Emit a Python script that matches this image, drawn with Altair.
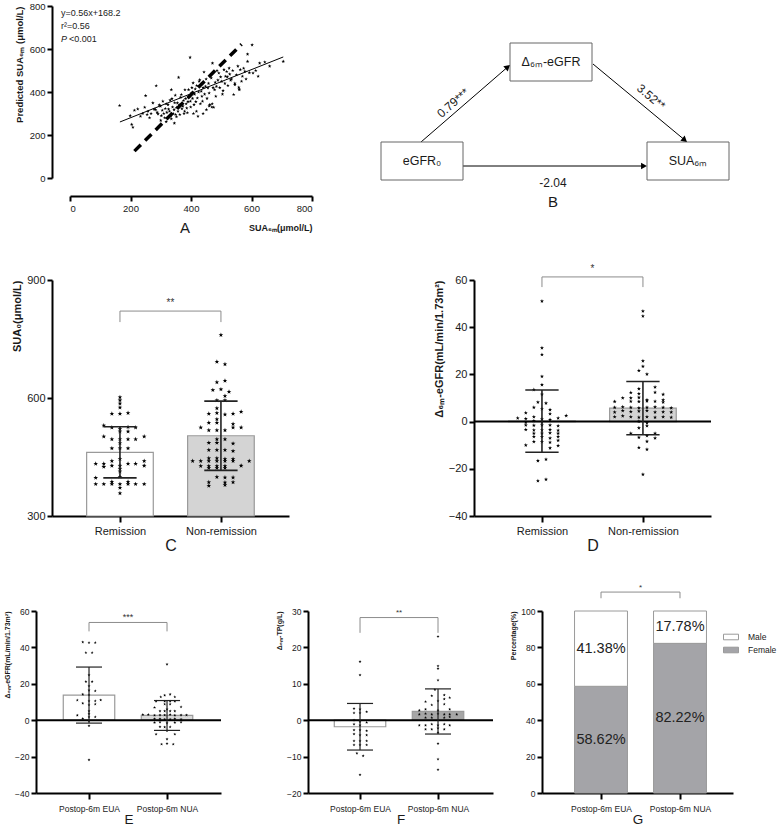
import altair as alt
import pandas as pd

FONT = "Liberation Sans"
STAR = "M0,-1L0.24,-0.32L0.95,-0.31L0.38,0.12L0.59,0.81L0,0.4L-0.59,0.81L-0.38,0.12L-0.95,-0.31L-0.24,-0.32Z"

# ---------------- Panel A : scatter ----------------
a_sua6m = [164,199,204,208,213,224,233,240,247,250,255,258,263,268,274,278,283,285,288,291,295,299,300,302,305,307,310,313,315,318,318,320,324,326,329,331,333,335,335,337,339,341,344,345,346,348,349,352,352,355,357,359,361,363,365,368,370,373,375,377,379,380,382,384,386,388,390,392,394,397,398,399,401,403,405,407,408,410,412,414,416,418,419,421,423,425,427,429,431,434,436,438,440,440,443,445,448,450,451,453,456,458,460,460,462,464,467,469,470,471,473,475,478,480,482,484,486,489,492,495,498,501,504,506,509,512,514,518,520,522,526,528,531,534,538,541,545,545,550,555,558,559,560,563,567,570,574,578,582,587,587,593,602,605,614,622,627,644,660,705]
a_pred = [337,290,249,236,315,321,287,300,329,383,295,310,280,300,349,320,318,429,305,298,340,334,268,290,315,357,300,280,323,262,345,305,341,320,310,362,290,411,275,369,330,300,318,255,350,385,295,328,285,349,310,468,340,295,375,388,322,334,360,300,310,410,369,345,325,303,355,411,380,561,357,330,395,420,370,442,300,341,390,414,355,310,430,372,287,400,450,457,345,403,380,357,420,300,493,390,426,460,318,370,419,440,395,335,341,480,465,330,345,534,420,329,411,445,380,426,500,455,488,420,470,449,390,406,504,440,473,495,470,430,511,483,455,460,500,388,434,440,480,520,422,414,410,504,450,473,510,496,460,576,542,490,619,488,500,473,534,539,520,542]
a_fit_x = [165, 705]
a_fit_y = [260.6, 563.0]
a_ref_x = [213, 567]
a_ref_y = [125, 622]
a_notes = ["y=0.56x+168.2", "r²=0.56"]
a_note_y = [767, 707]

# ---------------- Panel B : mediation diagram ----------------
b_box_label = ["Δ₆ₘ-eGFR", "eGFR₀", "SUA₆ₘ"]
b_box_x0 = [131, 2, 268]
b_box_x1 = [213, 84, 350]
b_box_y0 = [37, 136, 136]
b_box_y1 = [75, 174, 174]
b_arrow_x0 = [42, 214, 84]
b_arrow_y0 = [136, 58, 160]
b_arrow_x1 = [128, 305, 264]
b_arrow_y1 = [61.6, 133.4, 160]
b_head_angle = [49, 130, 90]
b_coef = ["0.79***", "3.52**", "-2.04"]
b_coef_x = [74, 272, 174]
b_coef_y = [97, 91, 177]
b_coef_angle = [319, 40, 0]

# ---------------- Panel C : SUA0 ----------------
c_labels = ["Remission", "Non-remission"]
c_mean = [462, 504]
c_sd = [65, 88]
c_rem_off = [0,0,0,0,-0.08,0,0.08,-0.16,-0.08,0,0.08,0.155,0,0.08,-0.16,0.24,-0.08,0,0.08,0.155,0,-0.08,0,0.08,-0.08,0,0.24,-0.24,-0.16,0.08,0.155,-0.08,0,0.24,-0.16,0,0,-0.24,0,-0.08,0.08,-0.24,-0.16,-0.08,0,0.08,0.155,0.24,0,0]
c_rem_val = [602,594,586,576,560,560,562,530,525,522,526,525,515,515,502,502,495,495,495,495,485,472,472,472,440,445,440,433,433,433,433,428,428,428,425,420,413,397,400,387,387,381,381,381,381,381,381,381,372,358]
c_non_off = [0,-0.04,0.04,-0.04,0.04,-0.08,0,0.08,0.04,-0.04,0.04,-0.04,-0.12,-0.04,0.04,0.12,0.2,-0.04,-0.12,-0.04,0.12,-0.2,-0.12,-0.04,0.04,0.12,0.2,-0.04,0.04,-0.12,-0.04,0.12,-0.12,-0.04,0.04,0.12,-0.12,-0.04,0.04,0.12,-0.28,-0.2,-0.12,-0.04,0.04,0.12,0.28,-0.2,-0.12,-0.04,0.04,0.2,-0.12,-0.04,0.04,-0.04,0.04,0.12,-0.12,0.04,0.12,-0.12,0.04]
c_non_val = [760,692,686,640,644,620,622,616,605,594,594,574,560,562,558,560,565,546,537,537,534,525,518,518,518,525,525,495,495,486,486,484,468,468,468,465,447,447,445,445,440,440,440,440,440,440,440,427,427,427,427,428,422,422,422,399,398,398,386,385,386,377,379]

# ---------------- Panel D : delta eGFR (remission) ----------------
d_mean = [0.2, 5.7]
d_sd = [13.2, 11.3]
d_rem_off = [0,0,0,0,0,-0.08,0,-0.04,0.04,-0.08,0,0.08,-0.16,0.08,-0.24,-0.16,-0.08,0,0.08,0.16,0.24,-0.16,-0.08,0,-0.16,-0.08,0,0.08,0.16,-0.16,-0.08,0,0.08,0.16,-0.08,0,0.08,0.16,-0.08,0,0.08,0.16,-0.08,0,0.08,0.16,-0.16,0.08,0.16,-0.04,0.04,-0.04,0.04]
d_rem_val = [51,31.2,28.4,19.1,15.6,13.5,11.5,8.2,7.8,6,5.4,5,3.7,3.3,1.5,1.2,2,1,0.8,1.5,2.5,-0.3,0.3,-0.2,-1.5,-1.6,-1.5,-1.5,-1.8,-3.4,-3.6,-3.6,-3.4,-3.7,-5,-5,-4.8,-5,-6.4,-6.4,-7,-6.4,-8.5,-8.5,-8.8,-8,-10,-11.2,-10.2,-16.6,-16,-25.1,-24.5]
d_non_off = [0,0,0,0,-0.04,0.04,-0.04,0.12,-0.12,-0.04,0.12,0.2,-0.2,-0.12,-0.04,0.04,0.2,-0.28,-0.12,-0.04,0.04,0.12,0.2,-0.28,-0.2,-0.12,-0.04,0.04,0.12,0.2,0.28,-0.28,-0.2,-0.12,-0.04,0.04,0.12,0.2,0.28,-0.28,-0.2,-0.12,-0.04,0.04,0.12,0.2,0.28,-0.04,0.04,-0.04,0.04,-0.12,0.12,-0.04,0.04,0.12,0.04,-0.04,0.04,0]
d_non_val = [46.8,44.7,25.7,23.4,21.6,20.1,13.9,14.6,12.3,11.8,12.4,11.5,10,10,10.2,9.2,9.2,8.5,8.6,8.5,8.7,8.6,8.2,6,6.2,6,5.8,6,6.2,6,5.8,4,4.6,4.2,4.4,4.6,4,4.1,4,2,2.4,2,1.8,2,1.8,2,1.8,0.1,-0.6,-2.7,-1.8,-5,-5,-6.7,-6,-7,-8.4,-11,-11.8,-22.4]

# ---------------- Panel E : delta eGFR (EUA / NUA) ----------------
e_labels = ["Postop-6m EUA", "Postop-6m NUA"]
e_mean = [13.8, 2.6]
e_sd = [15.4, 8.2]
e_eua_off = [-0.08,0,0.08,-0.04,0.04,0,-0.04,0.04,0,0,0.08,-0.08,0,-0.15,0,0.08,0.15,-0.08,0,0.08,0,0,-0.15,-0.08,0,0.08,0,0,0]
e_eua_val = [42.9,42.6,42.6,37.1,37.1,24.8,21.2,21.2,18.8,16.4,16.1,14.2,13.9,11,10.6,10.6,11.1,9.3,8.4,8.8,5,3.5,2.7,0.9,1.8,1.8,-0.4,-3.1,-21.8]
e_nua_off = [0,-0.03,0.04,-0.08,0.1,-0.14,-0.03,0.04,0.1,-0.03,0.04,-0.16,0,0.18,-0.09,-0.03,0.04,0.1,-0.31,-0.24,-0.16,-0.09,-0.03,0.04,0.1,0.18,0.25,-0.16,-0.09,-0.03,0.04,0.1,0.18,-0.16,-0.09,0,0.1,0.18,-0.09,-0.03,0.04,0,-0.14,0.1,0,-0.07,0,0.08]
e_nua_val = [30.7,13.7,14.2,12.8,12.8,10.4,10.4,10.4,10.4,8.8,8.8,7,6,7.3,5,5,5,5,3.1,3.1,2.7,2.8,2.8,3.1,2.7,2.8,2.8,0.8,0.8,0.5,0.5,0.8,0.5,-1.3,-1.1,-1.6,-1.3,-1.1,-3.6,-3.8,-3.7,-5.8,-7.7,-7.7,-10.4,-13.2,-12.8,-13.2]

# ---------------- Panel F : delta TP ----------------
f_mean = [-1.8, 2.4]
f_sd = [6.4, 6.2]
f_eua_off = [0,0,-0.077,0,0.085,-0.077,0,-0.077,0,0.085,-0.077,0,-0.077,0,0.085,-0.077,0,0.085,-0.077,0,0.085,-0.077,0,0.085,-0.04,0.04,0]
f_eua_val = [16.1,12.4,3.2,3,2.3,2,2,0,-0.4,-0.6,-1.1,-1.4,-2.7,-2.7,-2.9,-3.8,-4.1,-4.1,-5.7,-5.7,-5.7,-6.8,-6.8,-6.8,-9.1,-9.8,-15]
f_nua_off = [0,0,0,0,-0.04,-0.08,0.08,-0.16,0,0.08,0.15,-0.08,0.08,-0.24,-0.16,0,0.15,-0.24,-0.16,-0.08,0,0.08,0.15,0.24,-0.16,-0.08,0.08,0.15,-0.24,-0.16,-0.08,0,0.08,0.15,-0.16,-0.08,0,0.08,0,0,0,0]
f_nua_val = [23,14.9,14.2,11,8.4,6.7,6.9,5.1,5.3,5.8,6.2,4.2,4.4,2.7,3,2.7,3,1.6,1.8,1.6,1.8,1.6,1.6,1.6,0.7,0.7,0.7,0.9,-1.4,-1.4,-1.1,-1.4,-1.1,-1.4,-2.5,-2.5,-2.2,-2.5,-3.4,-6.4,-10.7,-13.6]

# ---------------- Panel G : sex percentage ----------------
g_female = [58.62, 82.22]
g_male = [41.38, 17.78]


def ax(**kw):
    base = dict(domainWidth=2, domainColor="black", tickWidth=2, tickColor="black", tickSize=5,
                labelColor="#1a1a1a", titleColor="#1a1a1a", labelFont=FONT, titleFont=FONT,
                grid=False, labelPadding=2)
    base.update(kw)
    return alt.Axis(**base)


def spacer(w, h):
    d = pd.DataFrame({"s": [0.0, 1.0]})
    return alt.Chart(d).mark_point(opacity=0, size=1).encode(
        x=alt.X("s:Q", axis=None, scale=alt.Scale(domain=[0, 1])),
        y=alt.Y("s:Q", axis=None, scale=alt.Scale(domain=[0, 1])),
    ).properties(width=w, height=h)


# ---------- A ----------
xsA = alt.Scale(domain=[0, 800], nice=False, zero=False)
ysA = alt.Scale(domain=[0, 800], nice=False, zero=False)
axA_x = ax(values=[0, 200, 400, 600, 800], offset=18, labelFontSize=9.5, title="SUA₆ₘ(μmol/L)",
           titleAnchor="end", titleFontSize=9, titleFontWeight="bold", titlePadding=11)
axA_y = ax(values=[0, 200, 400, 600, 800], offset=18, labelFontSize=9.5, title="Predicted SUA₆ₘ (μmol/L)",
           titleAnchor="end", titleFontSize=9.5, titleFontWeight="bold", titlePadding=5)


def XA(f):
    return alt.X(f, type="quantitative", scale=xsA, axis=axA_x)


def YA(f):
    return alt.Y(f, type="quantitative", scale=ysA, axis=axA_y)


a_pts = alt.Chart(pd.DataFrame({"x": a_sua6m, "y": a_pred})).mark_point(
    shape=STAR, filled=True, color="black", size=14, opacity=1, strokeWidth=0).encode(x=XA("x"), y=YA("y"))
a_fit = alt.Chart(pd.DataFrame({"x": a_fit_x, "y": a_fit_y})).mark_line(color="black", strokeWidth=1).encode(x=XA("x"), y=YA("y"))
a_ref = alt.Chart(pd.DataFrame({"x": a_ref_x, "y": a_ref_y})).mark_line(color="black", strokeWidth=3.5, strokeDash=[9, 6]).encode(x=XA("x"), y=YA("y"))
a_txt = alt.Chart(pd.DataFrame({"x": [-30, -30], "y": a_note_y, "t": a_notes})).mark_text(
    align="left", baseline="middle", fontSize=9, font=FONT, color="#1a1a1a").encode(x=XA("x"), y=YA("y"), text="t:N")
a_p = alt.Chart(pd.DataFrame({"x": [-30], "y": [646], "t": ["P"]})).mark_text(
    align="left", baseline="middle", fontSize=9, font=FONT, fontStyle="italic", color="#1a1a1a").encode(x=XA("x"), y=YA("y"), text="t:N")
a_p2 = alt.Chart(pd.DataFrame({"x": [-30], "y": [646], "t": ["<0.001"]})).mark_text(
    align="left", baseline="middle", fontSize=9, font=FONT, dx=8, color="#1a1a1a").encode(x=XA("x"), y=YA("y"), text="t:N")
chartA = alt.layer(a_pts, a_fit, a_ref, a_txt, a_p, a_p2).properties(
    width=242, height=172,
    title=alt.TitleParams("A", orient="bottom", fontSize=15, fontWeight="normal", font=FONT,
                          offset=-12, anchor="middle", frame="group", dx=-6, color="#1a1a1a"))

# ---------- B ----------
xsB = alt.Scale(domain=[0, 354], nice=False, zero=False)
ysB = alt.Scale(domain=[0, 200], nice=False, zero=False, reverse=True)
box_df = pd.DataFrame({"x0": b_box_x0, "x1": b_box_x1, "y0": b_box_y0, "y1": b_box_y1, "t": b_box_label})
box_df["cx"] = (box_df["x0"] + box_df["x1"]) / 2
box_df["cy"] = (box_df["y0"] + box_df["y1"]) / 2
b_rect = alt.Chart(box_df).mark_rect(fill="white", stroke="#666666", strokeWidth=1).encode(
    x=alt.X("x0:Q", scale=xsB, axis=None), x2="x1", y=alt.Y("y0:Q", scale=ysB, axis=None), y2="y1")
b_lab = alt.Chart(box_df).mark_text(fontSize=12.5, font=FONT, color="#1a1a1a").encode(
    x=alt.X("cx:Q", scale=xsB, axis=None), y=alt.Y("cy:Q", scale=ysB, axis=None), text="t:N")
arr_df = pd.DataFrame({"x0": b_arrow_x0, "y0": b_arrow_y0, "x1": b_arrow_x1, "y1": b_arrow_y1, "ang": b_head_angle})
b_lines = alt.Chart(arr_df).mark_rule(color="black", strokeWidth=1).encode(
    x=alt.X("x0:Q", scale=xsB, axis=None), x2="x1", y=alt.Y("y0:Q", scale=ysB, axis=None), y2="y1")
b_heads = alt.Chart(arr_df).mark_point(shape="triangle", filled=True, color="black", size=45, opacity=1).encode(
    x=alt.X("x1:Q", scale=xsB, axis=None), y=alt.Y("y1:Q", scale=ysB, axis=None),
    angle=alt.Angle("ang:Q", scale=None))
coef_df = pd.DataFrame({"x": b_coef_x, "y": b_coef_y, "t": b_coef, "ang": b_coef_angle})
b_coefs = alt.Chart(coef_df).mark_text(fontSize=12, font=FONT, color="#1a1a1a").encode(
    x=alt.X("x:Q", scale=xsB, axis=None), y=alt.Y("y:Q", scale=ysB, axis=None), text="t:N",
    angle=alt.Angle("ang:Q", scale=None))
b_letter = alt.Chart(pd.DataFrame({"x": [174], "y": [196], "t": ["B"]})).mark_text(
    fontSize=15, font=FONT, color="#1a1a1a").encode(
    x=alt.X("x:Q", scale=xsB, axis=None), y=alt.Y("y:Q", scale=ysB, axis=None), text="t:N")
chartB = alt.layer(b_lines, b_rect, b_lab, b_heads, b_coefs, b_letter).properties(width=354, height=200)


# ---------- bar + dot panels ----------
def bar_panel(W, H, xdom, ydom, yticks, xlabels, ytitle, letter, means, sds, fills, offs, vals, base,
              star_size, cap, bracket, zero, lab_fs, ytitle_fs, letter_fs, err_w, lab_pad, let_pad):
    xs = alt.Scale(domain=xdom, nice=False, zero=False)
    ys = alt.Scale(domain=ydom, nice=False, zero=False)
    xax = ax(values=[1, 2], labelExpr=f"datum.value == 1 ? '{xlabels[0]}' : '{xlabels[1]}'",
             title=letter, titleFontSize=letter_fs, titleFontWeight="normal", titlePadding=let_pad,
             labelFontSize=lab_fs, tickSize=6, labelPadding=lab_pad)
    yax = ax(values=yticks, title=ytitle, titleAnchor="end", titleFontSize=ytitle_fs,
             titleFontWeight="bold", labelFontSize=lab_fs, titlePadding=4)

    def X(f):
        return alt.X(f, type="quantitative", scale=xs, axis=xax)

    def Y(f):
        return alt.Y(f, type="quantitative", scale=ys, axis=yax)

    bdf = pd.DataFrame({"g": [1, 2], "m": means, "sd": sds, "fill": fills})
    bdf["x0"] = bdf["g"] - 0.33
    bdf["x1"] = bdf["g"] + 0.33
    bdf["b"] = base
    bdf["lo"] = bdf["m"] - bdf["sd"]
    bdf["hi"] = bdf["m"] + bdf["sd"]
    bdf["c0"] = bdf["g"] - cap
    bdf["c1"] = bdf["g"] + cap
    layers = [alt.Chart(bdf).mark_rect(stroke="#9a9a9a", strokeWidth=1.2).encode(
        x=X("x0"), x2="x1", y=Y("b"), y2="m", fill=alt.Fill("fill:N", scale=None))]
    if zero:
        layers.append(alt.Chart(pd.DataFrame({"z": [0]})).mark_rule(color="black", strokeWidth=2).encode(y=Y("z")))
    xp, vv = [], []
    for g, (o_list, v_list) in enumerate(zip(offs, vals), start=1):
        xp += [g + o for o in o_list]
        vv += list(v_list)
    layers.append(alt.Chart(pd.DataFrame({"xp": xp, "v": vv})).mark_point(
        shape=STAR, filled=True, color="black", size=star_size, opacity=1, strokeWidth=0).encode(x=X("xp"), y=Y("v")))
    layers.append(alt.Chart(bdf).mark_rule(color="#222222", strokeWidth=err_w).encode(x=X("g"), y=Y("lo"), y2="hi"))
    layers.append(alt.Chart(bdf).mark_rule(color="#222222", strokeWidth=err_w).encode(x=X("c0"), x2="c1", y=Y("lo")))
    layers.append(alt.Chart(bdf).mark_rule(color="#222222", strokeWidth=err_w).encode(x=X("c0"), x2="c1", y=Y("hi")))
    by, drop, ty, txt, fs = bracket
    brdf = pd.DataFrame({"x0": [1, 1, 2], "x1": [2, 1, 2], "y0": [by, by, by], "y1": [by, by - drop, by - drop]})
    layers.append(alt.Chart(brdf).mark_rule(color="#8c8c8c", strokeWidth=1).encode(x=X("x0"), x2="x1", y=Y("y0"), y2="y1"))
    layers.append(alt.Chart(pd.DataFrame({"x": [1.5], "y": [ty], "t": [txt]})).mark_text(
        baseline="alphabetic", fontSize=fs, font=FONT, color="#333333").encode(x=X("x"), y=Y("y"), text="t:N"))
    return alt.layer(*layers).properties(width=W, height=H)


chartC = bar_panel(237, 236, [0.327, 2.674], [300, 900], [300, 600, 900], c_labels, "SUA₀(μmol/L)", "C",
                   c_mean, c_sd, ["white", "#d4d4d4"], [c_rem_off, c_non_off], [c_rem_val, c_non_val], 300,
                   24, 0.165, (821, 28, 834, "**", 10), False, 11, 11, 16, 1.6, 3, 1)
chartD = bar_panel(237, 236, [0.327, 2.674], [-40, 60], [-40, -20, 0, 20, 40, 60], c_labels,
                   "Δ₆ₘ-eGFR(mL/min/1.73m²)", "D",
                   d_mean, d_sd, ["white", "#d4d4d4"], [d_rem_off, d_non_off], [d_rem_val, d_non_val], 0,
                   18, 0.165, (61.3, 4.3, 63.4, "*", 10), True, 11, 11, 16, 1.6, 3, 1)
chartE = bar_panel(185, 182, [0.3205, 2.692], [-40, 60], [-40, -20, 0, 20, 40, 60], e_labels,
                   "Δ₆ₘ-eGFR(mL/min/1.73m²)", "E",
                   e_mean, e_sd, ["white", "#d9d9d9"], [e_eua_off, e_nua_off], [e_eua_val, e_nua_val], 0,
                   10, 0.167, (53.7, 4.9, 55.3, "***", 9), True, 8.5, 7, 13.5, 1.2, 5, 0)
chartF = bar_panel(185, 182, [0.333, 2.705], [-20, 30], [-20, -10, 0, 10, 20, 30], e_labels,
                   "Δ₆ₘ-TP(g/L)", "F",
                   f_mean, f_sd, ["white", "#a6a6a6"], [f_eua_off, f_nua_off], [f_eua_val, f_nua_val], 0,
                   10, 0.167, (28.2, 4.2, 28.8, "**", 8), True, 8.5, 7, 13.5, 1.2, 5, 0)

# ---------- G ----------
xsG = alt.Scale(domain=[0.253, 2.671], nice=False, zero=False)
ysG = alt.Scale(domain=[0, 100], nice=False, zero=False)
axG_x = ax(values=[1, 2], labelExpr=f"datum.value == 1 ? '{e_labels[0]}' : '{e_labels[1]}'",
           title="G", titleFontSize=13.5, titleFontWeight="normal", titlePadding=0, labelFontSize=8.5,
           tickSize=6, labelPadding=5)
axG_y = ax(values=[0, 20, 40, 60, 80, 100], title="Percentage(%)", titleAnchor="end", titleFontSize=7,
           titleFontWeight="bold", labelFontSize=8.5, titlePadding=4)


def XG(f):
    return alt.X(f, type="quantitative", scale=xsG, axis=axG_x)


def YG(f):
    return alt.Y(f, type="quantitative", scale=ysG, axis=axG_y)


g_rows = []
for i, (fe, ma) in enumerate(zip(g_female, g_male), start=1):
    g_rows.append({"g": i, "sex": "Female", "y0": 0, "y1": fe, "pct": fe})
    g_rows.append({"g": i, "sex": "Male", "y0": fe, "y1": fe + ma, "pct": ma})
gdf = pd.DataFrame(g_rows)
gdf["x0"] = gdf["g"] - 0.335
gdf["x1"] = gdf["g"] + 0.335
gdf["cy"] = (gdf["y0"] + gdf["y1"]) / 2
gdf["lab"] = gdf["pct"].map(lambda v: f"{v:.2f}%")
g_bars = alt.Chart(gdf).mark_rect(stroke="#9a9a9a", strokeWidth=1).encode(
    x=XG("x0"), x2="x1", y=YG("y0"), y2="y1",
    fill=alt.Fill("sex:N", scale=alt.Scale(domain=["Male", "Female"], range=["white", "#a4a4a8"]),
                  legend=alt.Legend(orient="none", legendX=723, legendY=624, title=None,
                                    symbolType="M-1.2,-0.45H1.2V0.45H-1.2Z", symbolSize=156,
                                    symbolStrokeColor="#888888", symbolStrokeWidth=1,
                                    labelFontSize=8.5, labelFont=FONT, labelColor="#1a1a1a",
                                    rowPadding=1, labelOffset=10, padding=0)))
g_text = alt.Chart(gdf).mark_text(fontSize=14.5, font=FONT, color="#222222").encode(
    x=XG("g"), y=YG("cy"), text="lab:N")
g_br = pd.DataFrame({"x0": [1, 1, 2], "x1": [2, 1, 2], "y0": [110.4, 110.4, 110.4], "y1": [110.4, 107, 107]})
g_brk = alt.Chart(g_br).mark_rule(color="#8c8c8c", strokeWidth=1).encode(x=XG("x0"), x2="x1", y=YG("y0"), y2="y1")
g_star = alt.Chart(pd.DataFrame({"x": [1.5], "y": [111.5], "t": ["*"]})).mark_text(
    baseline="alphabetic", fontSize=8, font=FONT, color="#333333").encode(x=XG("x"), y=YG("y"), text="t:N")
chartG = alt.layer(g_bars, g_text, g_brk, g_star).properties(width=191, height=182)

# ---------- layout ----------
row1 = alt.hconcat(spacer(69, 10), chartA, spacer(67, 10), chartB, spacing=0, bounds="flush")
row2 = alt.hconcat(spacer(51, 10), chartC, spacer(185, 10), chartD, spacing=0, bounds="flush")
row3 = alt.hconcat(spacer(35, 10), chartE, spacer(87, 10), chartF, spacer(49, 10), chartG, spacing=0, bounds="flush")

chart = alt.vconcat(row1, spacer(10, 25), row2, spacer(10, 27), row3, spacing=0).properties(
    padding=0
).configure(font=FONT).configure_view(stroke="transparent")

chart.save("out.html", embed_options={"renderer": "svg", "actions": False})
